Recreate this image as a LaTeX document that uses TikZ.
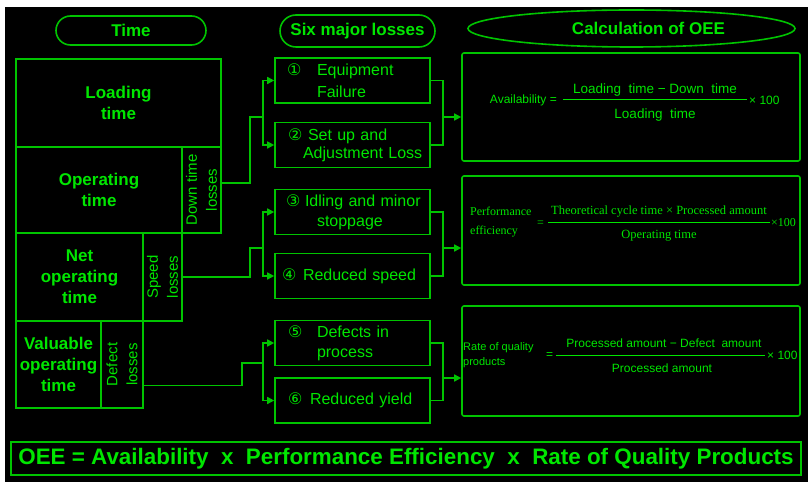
\documentclass[tikz,border=0pt]{standalone}
\usepackage{fontspec}
\setmainfont{Liberation Sans}
\newfontfamily\circfont{DejaVu Sans}
\newfontfamily\formserif{Liberation Serif}
\usepackage{xcolor}
\usepackage{tikz}
\usetikzlibrary{arrows.meta, shapes.geometric}
\definecolor{oeeline}{HTML}{00C400}
\definecolor{oeetext}{HTML}{00E600}

\newcommand{\cnum}[1]{{\circfont #1}}

\tikzset{
    header/.style={draw=oeeline, line width=1.6pt, text=oeetext, inner sep=0pt,
        font=\fontsize{17}{20}\selectfont\bfseries},
    stackbox/.style={draw=oeeline, line width=1.6pt, text=oeetext, inner sep=0pt,
        align=center, font=\fontsize{17}{21}\selectfont\bfseries},
    lossbar/.style={stackbox, rotate=90, font=\fontsize{15}{20}\selectfont},
    lossbox/.style={draw=oeeline, line width=1.6pt, text=oeetext, inner sep=0pt,
        minimum width=155pt, minimum height=45pt, text width=155pt, align=left,
        font=\fontsize{16}{20}\selectfont},
    calcbox/.style={draw=oeeline, line width=1.6pt, rounded corners=2pt,
        minimum width=338pt, minimum height=108pt},
    formula/.style={text=oeetext, inner sep=0pt, font=\fontsize{12}{15}\selectfont},
    fracbar/.style={draw=oeetext, line width=1pt},
    link/.style={draw=oeeline, line width=1.6pt},
    feed/.style={link, -{Triangle[length=7pt, width=7pt]}},
}

\begin{document}
\begin{tikzpicture}[x=1pt, y=-1pt]
    \useasboundingbox (0,0) rectangle (808,486);
    \fill[black] (5,7) rectangle (808,482);

    % column headers
    \node[header, rounded corners=14.5pt, minimum width=150pt, minimum height=29pt] (hdtime) at (131,30.5) {Time};
    \node[header, rounded corners=16pt, minimum width=155pt, minimum height=32pt] (hdloss) at (357.5,31) {Six major losses};
    \node[header, ellipse, minimum width=327pt, minimum height=37pt] (hdcalc) at (631.5,28.5) {\hspace*{34pt}Calculation of OEE};

    % time stack
    \node[stackbox, minimum width=205pt, minimum height=88pt] (load) at (118.5,103) {Loading\\time};
    \node[stackbox, minimum width=166pt, minimum height=86pt] (oper) at (99,190) {Operating\\time};
    \node[lossbar, minimum width=86pt, minimum height=39pt] (down) at (201.5,190) {Down time\\losses};
    \node[stackbox, minimum width=127pt, minimum height=88pt] (net) at (79.5,277) {Net\\operating\\time};
    \node[lossbar, minimum width=88pt, minimum height=39pt] (speed) at (162.5,277) {Speed\\losses};
    \node[stackbox, minimum width=85pt, minimum height=87pt] (valu) at (58.5,364.5) {Valuable\\operating\\time};
    \node[lossbar, minimum width=87pt, minimum height=42pt] (defect) at (122,364.5) {Defect\\losses};

    % six losses
    \node[lossbox] (l1) at (352.5,80.5) {\mbox{\hspace*{12pt}\makebox[30pt][l]{\cnum{①}}Equipment}\\[2pt]\mbox{\hspace*{42pt}Failure}};
    \node[lossbox] (l2) at (352.5,145) {\mbox{\hspace*{13pt}\makebox[20pt][l]{\cnum{②}}Set up and}\\[-2pt]\mbox{\hspace*{28pt}Adjustment Loss}};
    \node[lossbox] (l3) at (352.5,212) {\mbox{\hspace*{11pt}\makebox[19pt][l]{\cnum{③}}Idling and minor}\\\mbox{\hspace*{42pt}stoppage}};
    \node[lossbox] (l4) at (352.5,276) {\mbox{\hspace*{7pt}\makebox[21pt][l]{\cnum{④}}Reduced speed}};
    \node[lossbox] (l5) at (352.5,343) {\mbox{\hspace*{13pt}\makebox[29pt][l]{\cnum{⑤}}Defects in}\\\mbox{\hspace*{42pt}process}};
    \node[lossbox] (l6) at (352.5,400.5) {\mbox{\hspace*{13pt}\makebox[22pt][l]{\cnum{⑥}}Reduced yield}};

    % calculation boxes
    \node[calcbox] (calcA) at (631,107) {};
    \node[calcbox, minimum height=109pt] (calcB) at (631,230.5) {};
    \node[calcbox, minimum height=110pt] (calcC) at (631,361) {};

    \node[formula, anchor=east] (avlab) at (557,100) {Availability =};
    \node[formula, font=\fontsize{13.5}{15}\selectfont] (avnum) at (655,90) {Loading\ \ time − Down\ \ time};
    \node[formula, font=\fontsize{13.5}{15}\selectfont] (avden) at (655,115) {Loading\ \ time};
    \draw[fracbar] (563,100) -- (747,100);
    \node[formula, anchor=west] (avmul) at (749,100) {× 100};

    \node[formula, font=\formserif\fontsize{12}{19}\selectfont, anchor=west, align=left] (pelab) at (470,222.5) {Performance\\efficiency};
    \node[formula, font=\formserif\fontsize{12}{15}\selectfont, anchor=west] (peeq) at (537,224) {=};
    \node[formula, font=\formserif\fontsize{12.5}{15}\selectfont] (penum) at (659,212) {Theoretical cycle time × Processed amount};
    \node[formula, font=\formserif\fontsize{12.5}{15}\selectfont] (peden) at (659,236) {Operating time};
    \draw[fracbar] (548,223) -- (770,223);
    \node[formula, font=\formserif\fontsize{12}{15}\selectfont, anchor=west] (pemul) at (771,223) {×100};

    \node[formula, font=\fontsize{11}{15}\selectfont, anchor=west, align=left] (rqlab) at (463,355) {Rate of quality\\products};
    \node[formula, anchor=west] (rqeq) at (546,356) {=};
    \node[formula] (rqnum) at (664,343) {Processed amount − Defect\ \ amount};
    \node[formula] (rqden) at (662,368) {Processed amount};
    \draw[fracbar] (556,355) -- (765,355);
    \node[formula, anchor=west] (rqmul) at (767,355) {× 100};

    % connectors
    \coordinate (jd) at (263,117);
    \coordinate (js) at (263,248);
    \coordinate (jq) at (263,363);
    \coordinate (ka) at (443,117);
    \coordinate (kb) at (443,248);
    \coordinate (kc) at (443,378);

    \draw[link] ([yshift=7pt]down.south) -| ([xshift=-13pt]jd) -- (jd);
    \draw[feed] (jd) |- (l1.west);
    \draw[feed] (jd) |- (l2.west);
    \draw[link] (speed.south) -| ([xshift=-13pt]js) -- (js);
    \draw[feed] (js) |- (l3.west);
    \draw[feed] (js) |- (l4.west);
    \draw[link] ([yshift=-21pt]defect.south) -| ([xshift=-21pt]jq) -- (jq);
    \draw[feed] (jq) |- (l5.west);
    \draw[feed] (jq) |- (l6.west);

    \draw[link] (l1.east) -| (ka) |- (l2.east);
    \draw[feed] (ka) -- (ka -| calcA.west);
    \draw[link] (l3.east) -| (kb) |- (l4.east);
    \draw[feed] (kb) -- (kb -| calcB.west);
    \draw[link] (l5.east) -| (kc) |- (l6.east);
    \draw[feed] (kc) -- (kc -| calcC.west);

    % formula line
    \node[draw=oeeline, line width=1.6pt, text=oeetext, minimum width=790pt, minimum height=33pt,
          inner sep=0pt, font=\fontsize{22.4}{24}\selectfont\bfseries] (oee) at (406,458.5)
        {OEE = Availability \ x \ Performance Efficiency \ x \ Rate of Quality Products};
\end{tikzpicture}
\end{document}
